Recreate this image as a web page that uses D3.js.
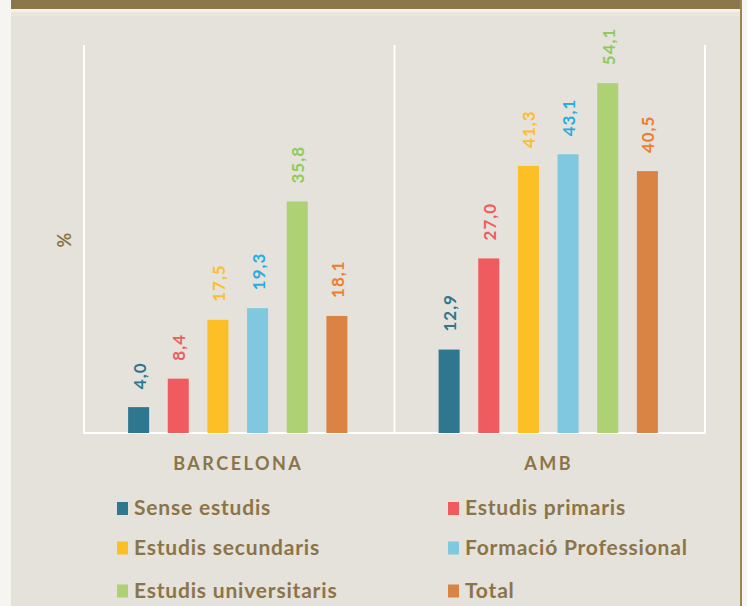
<!DOCTYPE html>
<html>
<head>
<meta charset="utf-8">
<script src="https://cdn.jsdelivr.net/npm/d3@7/dist/d3.min.js"></script>
<style>
  html, body { margin: 0; padding: 0; background: #f7f5f1; }
  svg { display: block; font-family: Lato, "Open Sans", sans-serif; }
</style>
</head>
<body>
<svg id="chart" width="747" height="606"></svg>
<script>
// Population share by level of studies (%)
const categories = ["BARCELONA", "AMB"];
const series = ["Sense estudis", "Estudis primaris", "Estudis secundaris",
                "Formació Professional", "Estudis universitaris", "Total"];
const barcelona = [4.0, 8.4, 17.5, 19.3, 35.8, 18.1];
const amb = [12.9, 27.0, 41.3, 43.1, 54.1, 40.5];
const barColors = ["#2e778f", "#f05b5f", "#fdbf26", "#80c8e0", "#aed173", "#d98445"];
const labelColors = ["#2e778f", "#f05b5f", "#fdbe2b", "#29ace3", "#8fcb5b", "#ee7d31"];
const yAxisLabel = "%";

const values = [barcelona, amb];
const brown = "#8b7548";

const svg = d3.select("#chart");

// Panel background and frame
svg.append("rect").attr("x", 11).attr("y", 0).attr("width", 729).attr("height", 606).attr("fill", "#e5e1db");
svg.append("rect").attr("x", 11).attr("y", 9).attr("width", 729).attr("height", 3).attr("fill", "#f4f1ec");
svg.append("rect").attr("x", 11).attr("y", 12).attr("width", 729).attr("height", 4).attr("fill", "#e9e6e0");
svg.append("rect").attr("x", 11).attr("y", 0).attr("width", 731).attr("height", 9).attr("fill", "#8d7649");
svg.append("rect").attr("x", 740).attr("y", 0).attr("width", 2).attr("height", 606).attr("fill", "#9c8352");

// Scales
const x0 = d3.scaleBand().domain(categories).range([84, 705]).paddingInner(0).paddingOuter(0);
const x1 = d3.scaleBand().domain(series).range([-1.5, x0.bandwidth() - 1.5])
  .paddingInner(0.47).paddingOuter(1.15);
const y = d3.scaleLinear().domain([0, 60]).range([433, 45]);

// Category separators and baseline
const bounds = [x0.range()[0], ...categories.map(c => x0(c) + x0.bandwidth())];
svg.append("g").selectAll("line").data(bounds).join("line")
  .attr("x1", d => d).attr("x2", d => d)
  .attr("y1", y(60)).attr("y2", y(0))
  .attr("stroke", "#ffffff").attr("stroke-width", 2);
svg.append("line")
  .attr("x1", x0.range()[0] - 1).attr("x2", x0.range()[1] + 1)
  .attr("y1", y(0)).attr("y2", y(0))
  .attr("stroke", "#ffffff").attr("stroke-width", 2);

// Bars and value labels
const groups = svg.append("g").selectAll("g").data(categories).join("g")
  .attr("transform", c => `translate(${x0(c)},0)`);

groups.selectAll("rect").data((c, i) => values[i].map((v, j) => ({ v, j })))
  .join("rect")
  .attr("x", d => x1(series[d.j]))
  .attr("width", x1.bandwidth())
  .attr("y", d => y(d.v))
  .attr("height", d => y(0) - y(d.v))
  .attr("fill", d => barColors[d.j]);

const fmt = v => d3.format(".1f")(v).replace(".", ",");
groups.selectAll("text").data((c, i) => values[i].map((v, j) => ({ v, j })))
  .join("text")
  .attr("transform", d => `translate(${x1(series[d.j]) + x1.bandwidth() / 2 + 7},${y(d.v) - 18}) rotate(-90)`)
  .attr("fill", d => labelColors[d.j])
  .attr("font-size", 17)
  .attr("font-weight", 700)
  .attr("letter-spacing", 1)
  .text(d => fmt(d.v));

// Category labels
svg.append("g").selectAll("text").data(categories).join("text")
  .attr("x", c => x0(c) + x0.bandwidth() / 2 - 1)
  .attr("y", 470)
  .attr("text-anchor", "middle")
  .attr("fill", brown)
  .attr("font-size", 18)
  .attr("font-weight", 700)
  .attr("letter-spacing", 2.5)
  .text(c => c);

// Y axis title
svg.append("text")
  .attr("transform", "translate(71,240) rotate(-90)")
  .attr("text-anchor", "middle")
  .attr("fill", brown)
  .attr("font-size", 18)
  .attr("font-weight", 700)
  .text(yAxisLabel);

// Legend
const legendCols = [117, 448];
const legendRows = [508.5, 548, 591];
const legend = svg.append("g").selectAll("g").data(series).join("g")
  .attr("transform", (s, i) => `translate(${legendCols[i % 2]},${legendRows[Math.floor(i / 2)]})`);
legend.append("rect")
  .attr("x", 0).attr("y", -6.5).attr("width", 11).attr("height", 13)
  .attr("fill", (s, i) => barColors[i]);
legend.append("text")
  .attr("x", 17).attr("y", 6.5)
  .attr("fill", brown)
  .attr("font-size", 21)
  .attr("font-weight", 700)
  .attr("letter-spacing", 0.8)
  .text(s => s);
</script>
</body>
</html>
